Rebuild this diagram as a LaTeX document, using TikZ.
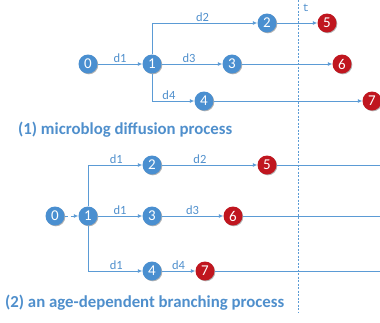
\documentclass[tikz,border=0pt]{standalone}
\usepackage{fontspec}
\setmainfont{Carlito}
\newfontfamily\monofnt{Liberation Mono}
\usetikzlibrary{arrows.meta,shadows}
\definecolor{nodeblue}{HTML}{4A8FD0}
\definecolor{nodered}{HTML}{C0161F}
\definecolor{lineblue}{HTML}{5B9BD5}
\definecolor{textblue}{HTML}{4F8FCC}
\tikzset{
  state/.style={circle, minimum size=19pt, inner sep=0pt, text=white,
    font=\fontsize{15}{15}\selectfont,
    drop shadow={shadow xshift=0.8pt, shadow yshift=-0.8pt, opacity=0.3, fill=black}},
  bluestate/.style={state, fill=nodeblue},
  redstate/.style={state, fill=nodered},
  link/.style={draw=lineblue, line width=0.9pt, -{Latex[length=4.5pt,width=4pt]}},
  plainlink/.style={draw=lineblue, line width=0.9pt},
  delay/.style={text=textblue, font=\fontsize{12.5}{12.5}\selectfont, inner sep=0.5pt, above},
  caption/.style={text=textblue, font=\bfseries\fontsize{16.8}{16.8}\selectfont, anchor=base west, inner sep=0pt},
}
\begin{document}
\begin{tikzpicture}[x=1pt, y=-1pt]
\useasboundingbox (0,0) rectangle (380,322);

% time cut
\draw[lineblue, line width=0.8pt, dash pattern=on 2pt off 1.5pt] (298,0) -- (298,312);
\node[text=textblue, font=\monofnt\fontsize{11}{11}\selectfont, inner sep=0pt] (tlabel) at (306,8) {t};

% (1) microblog diffusion process
\node[bluestate] (a0) at (88,64) {0};
\node[bluestate] (a1) at (152,64) {1};
\node[bluestate] (a2) at (267,23) {2};
\node[bluestate] (a3) at (232,64) {3};
\node[bluestate] (a4) at (204,101) {4};
\node[redstate] (a5) at (327,23) {5};
\node[redstate] (a6) at (342,64) {6};
\node[redstate] (a7) at (372,101) {7};

\draw[link] (a0) -- node[delay] {d1} (a1);
\draw[link] (a1.north) |- node[delay, pos=0.74] {d2} (a2);
\draw[link] (a1) -- node[delay, pos=0.45] {d3} (a3);
\draw[link] (a1.south) |- node[delay, pos=0.7] {d4} (a4);
\draw[link] (a2) -- (a5);
\draw[link] (a3) -- (a6);
\draw[link] (a4) -- (a7);

\node[caption] (cap1) at (18,134) {(1) microblog diffusion process};

% (2) an age-dependent branching process
\node[bluestate] (b0) at (55,216) {0};
\node[bluestate] (b1) at (88,216) {1};
\node[bluestate] (b2) at (152,165) {2};
\node[bluestate] (b3) at (152,216) {3};
\node[bluestate] (b4) at (152,271) {4};
\node[redstate] (b5) at (267,165) {5};
\node[redstate] (b6) at (233,216) {6};
\node[redstate] (b7) at (205,271) {7};
\coordinate (e5) at (380,165);
\coordinate (e6) at (380,216);
\coordinate (e7) at (380,271);

\draw[link, dashed] (b0) -- (b1);
\draw[link] (b1.north) |- node[delay, pos=0.76] {d1} (b2);
\draw[link] (b1) -- node[delay] {d1} (b3);
\draw[link] (b1.south) |- node[delay, pos=0.76] {d1} (b4);
\draw[link] (b2) -- node[delay, pos=0.4] {d2} (b5);
\draw[link] (b3) -- node[delay] {d3} (b6);
\draw[link] (b4) -- node[delay] {d4} (b7);
\draw[plainlink] (b5) -- (e5);
\draw[plainlink] (b6) -- (e6);
\draw[plainlink] (b7) -- (e7);

\node[caption] (cap2) at (5,307) {(2) an age-dependent branching process};
\end{tikzpicture}
\end{document}
